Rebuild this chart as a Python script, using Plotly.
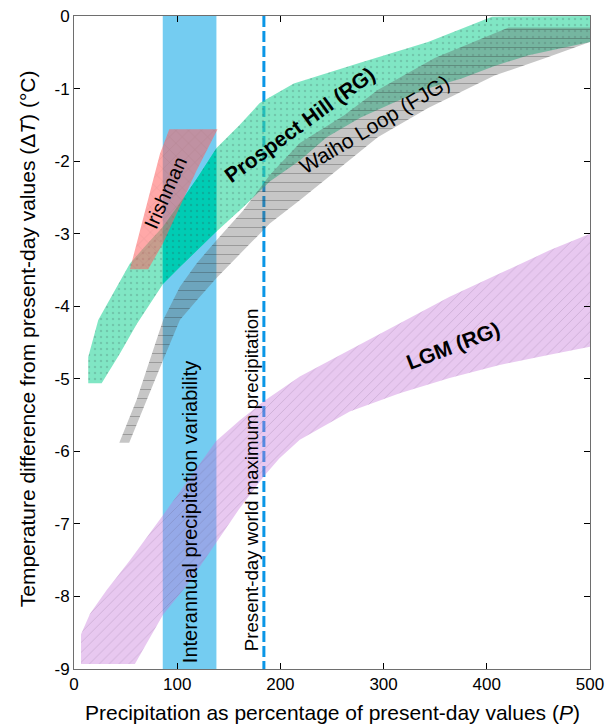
import numpy as np
import plotly.graph_objects as go

# ---------------- data ----------------
# Prospect Hill (RG)
green_upper_P = [13.8, 23.5, 38.0, 54.2, 70.4, 86.4, 102.6, 120.0, 138.1, 160.7, 180.0, 213.0, 278.0, 343.0, 405.0, 500.0]
green_upper_T = [-4.70, -4.19, -3.82, -3.41, -3.15, -2.90, -2.58, -2.22, -1.82, -1.50, -1.20, -0.93, -0.64, -0.36, -0.01, 0.0]
green_lower_P = [13.8, 26.8, 44.5, 60.7, 86.4, 102.6, 138.1, 163.6, 189.7, 218.8, 244.9, 277.8, 310.7, 342.7, 375.6, 407.5, 440.5, 500.0]
green_lower_T = [-5.06, -5.06, -4.65, -4.25, -3.69, -3.46, -2.97, -2.64, -2.28, -1.99, -1.67, -1.40, -1.19, -1.00, -0.86, -0.69, -0.54, -0.36]

# Waiho Loop (FJG)
gray_upper_P = [43.9, 60.7, 76.8, 86.4, 102.6, 118.8, 138.1, 163.9, 189.7, 218.8, 261.4, 294.3, 349.5, 421.1, 500.0]
gray_upper_T = [-5.88, -5.29, -4.60, -4.19, -3.73, -3.41, -3.09, -2.68, -2.19, -1.75, -1.37, -1.02, -0.58, -0.16, -0.16]
gray_lower_P = [53.5, 70.4, 86.4, 102.6, 118.8, 138.1, 163.9, 189.7, 218.8, 244.9, 294.3, 342.7, 407.5, 456.9, 500.0]
gray_lower_T = [-5.88, -5.29, -4.74, -4.19, -3.92, -3.61, -3.23, -2.86, -2.54, -2.24, -1.67, -1.27, -0.82, -0.58, -0.36]

# LGM (RG)
lgm_upper_P = [6.8, 15.5, 31.7, 44.5, 54.2, 86.2, 110.4, 137.5, 160.7, 183.9, 218.8, 267.2, 315.6, 364.0, 412.4, 460.8, 500.0]
lgm_upper_T = [-8.52, -8.24, -7.91, -7.68, -7.50, -6.88, -6.40, -5.86, -5.57, -5.31, -4.97, -4.60, -4.24, -3.87, -3.55, -3.23, -3.00]
lgm_lower_P = [6.8, 59.0, 70.4, 86.4, 110.5, 137.5, 159.7, 184.2, 198.9, 218.8, 267.2, 315.6, 364.0, 412.4, 460.8, 500.0]
lgm_lower_T = [-8.93, -8.93, -8.64, -8.25, -7.83, -7.27, -6.80, -6.34, -6.10, -5.84, -5.45, -5.20, -4.99, -4.81, -4.67, -4.56]

# Irishman
irish_upper_P = [54.2, 63.9, 75.2, 83.3, 92.3, 139.1]
irish_upper_T = [-3.49, -2.95, -2.36, -1.90, -1.56, -1.56]
irish_lower_P = [54.2, 71.9, 86.4, 102.6, 118.8, 139.1]
irish_lower_T = [-3.49, -3.49, -3.13, -2.63, -2.13, -1.56]

# Interannual precipitation variability band and world maximum precipitation
variability_P = [86.0, 138.0]
world_max_P = 184.0

x_ticks = [0, 100, 200, 300, 400, 500]
y_ticks = [0, -1, -2, -3, -4, -5, -6, -7, -8, -9]
y_ticktext = ["0", "-1", "-2", "-3", "-4", "-5", "-6", "-7", "-8", "-9"]
x_range = [0, 500]
y_range = [-9, 0]

FONT = "Liberation Sans, Arial, Helvetica, sans-serif"


def band_xy(pu, tu, pl, tl):
    x = list(pu) + list(pl)[::-1] + [pu[0]]
    y = list(tu) + list(tl)[::-1] + [tu[0]]
    return x, y


def clip_band(pu, tu, pl, tl, a, b):
    lo = max(a, pu[0], pl[0])
    hi = min(b, pu[-1], pl[-1])
    gu = [lo] + [p for p in pu if lo < p < hi] + [hi]
    gl = [lo] + [p for p in pl if lo < p < hi] + [hi]
    return band_xy(gu, np.interp(gu, pu, tu), gl, np.interp(gl, pl, tl))


def area(x, y, bg, fg, shape, size, solidity):
    return go.Scatter(
        x=x, y=y, mode="lines", fill="toself", line=dict(width=0),
        fillcolor=bg,
        fillpattern=dict(shape=shape, bgcolor=bg, fgcolor=fg, size=size, solidity=solidity),
        hoverinfo="skip", showlegend=False,
    )


fig = go.Figure()

# blue variability band
fig.add_trace(go.Scatter(
    x=[variability_P[0], variability_P[1], variability_P[1], variability_P[0], variability_P[0]],
    y=[y_range[1], y_range[1], y_range[0], y_range[0], y_range[1]],
    mode="lines", fill="toself", fillcolor="#74CCF1", line=dict(width=0),
    hoverinfo="skip", showlegend=False))

# world maximum precipitation line (drawn below the bands, as in the reference)
fig.add_trace(go.Scatter(
    x=[world_max_P, world_max_P], y=[y_range[1], y_range[0]], mode="lines",
    line=dict(color="#0A96E6", width=3, dash="11px,4px"),
    hoverinfo="skip", showlegend=False))

# Prospect Hill
gx, gy = band_xy(green_upper_P, green_upper_T, green_lower_P, green_lower_T)
fig.add_trace(area(gx, gy, "rgba(50,215,160,0.62)", "rgba(70,110,100,0.55)", ".", 6, 0.12))
# Prospect Hill inside the variability band (darker teal)
tx, ty = clip_band(green_upper_P, green_upper_T, green_lower_P, green_lower_T, *variability_P)
fig.add_trace(area(tx, ty, "#00CCB4", "rgba(40,90,90,0.55)", ".", 6, 0.12))

# Waiho Loop
wx, wy = band_xy(gray_upper_P, gray_upper_T, gray_lower_P, gray_lower_T)
fig.add_trace(area(wx, wy, "rgba(98,98,98,0.36)", "rgba(30,30,30,0.55)", "-", 9, 0.11))

# LGM
lx, ly = band_xy(lgm_upper_P, lgm_upper_T, lgm_lower_P, lgm_lower_T)
fig.add_trace(area(lx, ly, "rgba(197,117,217,0.40)", "rgba(80,60,90,0.45)", "/", 7, 0.10))

# Irishman
ix, iy = band_xy(irish_upper_P, irish_upper_T, irish_lower_P, irish_lower_T)
fig.add_trace(area(ix, iy, "rgba(255,97,97,0.55)", "rgba(110,60,60,0.45)", "x", 9, 0.07))

ann = [
    dict(text="<b>Prospect Hill (RG)</b>", x=218.8, y=-1.50, textangle=-36, size=21),
    dict(text="Waiho Loop (FJG)", x=290.7, y=-1.49, textangle=-31, size=21),
    dict(text="<b>LGM (RG)</b>", x=367.4, y=-4.54, textangle=-21, size=21),
    dict(text="Irishman", x=89.1, y=-2.43, textangle=-66, size=20),
    dict(text="Interannual precipitation variability", x=112.3, y=-6.84, textangle=-90, size=20),
    dict(text="Present-day world maximum precipitation", x=172.1, y=-6.39, textangle=-90, size=18.7),
]
for a in ann:
    fig.add_annotation(x=a["x"], y=a["y"], xref="x", yref="y", text=a["text"],
                       textangle=a["textangle"], showarrow=False,
                       xanchor="center", yanchor="middle",
                       font=dict(family=FONT, size=a["size"], color="black"))

fig.add_annotation(text="Precipitation as percentage of present-day values (<i>P</i>)",
                   xref="paper", yref="paper", x=0.5, y=-0.066, showarrow=False,
                   xanchor="center", yanchor="middle",
                   font=dict(family=FONT, size=21, color="black"))
fig.add_annotation(text="Temperature difference from present-day values (\u0394<i>T</i>) (\u00b0C)",
                   xref="paper", yref="paper", x=-0.091, y=0.505, showarrow=False,
                   textangle=-90, xanchor="center", yanchor="middle",
                   font=dict(family=FONT, size=21, color="black"))

axis_common = dict(showline=True, linecolor="#6E6E6E", linewidth=1, mirror="ticks",
                   ticks="inside", ticklen=6, tickcolor="black", tickwidth=1,
                   showgrid=False, zeroline=False, automargin=False,
                   tickfont=dict(family=FONT, size=17, color="black"))
fig.update_xaxes(range=x_range, tickvals=x_ticks, **axis_common)
fig.update_yaxes(range=y_range, tickvals=y_ticks, ticktext=y_ticktext, **axis_common)

fig.update_layout(width=609, height=725, margin=dict(l=74, r=19, t=16, b=56),
                  plot_bgcolor="white", paper_bgcolor="white",
                  font=dict(family=FONT, color="black"))

fig.write_html("out.html")
